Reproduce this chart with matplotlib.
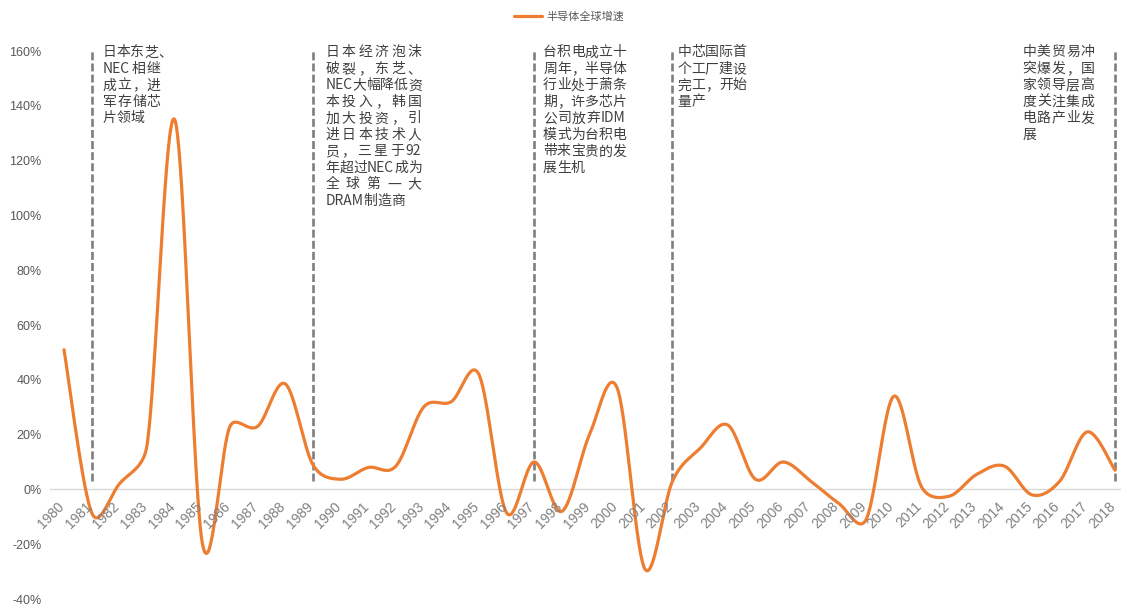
import re
import numpy as np
import matplotlib
matplotlib.use('Agg')
import matplotlib.pyplot as plt
from matplotlib.font_manager import FontProperties

years = np.arange(1980, 2019)
growth = [51, -8.5, 2, 16, 135, -19.5, 23, 23, 38.5, 9,
          3.7, 8, 8.5, 30, 32, 42, -8.5, 10, -8, 20,
          37, -29, 3, 15, 23.5, 3.7, 10, 3, -5, -11,
          34, 1, -2.5, 5.5, 8.5, -2, 3, 21, 7]
series_name = '半导体全球增速'

event_years = [1981, 1989, 1997, 2002, 2018]
event_notes = [
    ['日本东芝、', 'NEC相继', '成立，进', '军存储芯', '片领域'],
    ['日本经济泡沫', '破裂，东芝、', 'NEC大幅降低资', '本投入，韩国', '加大投资，引',
     '进日本技术人', '员，三星于92', '年超过NEC成为', '全球第一大', 'DRAM制造商'],
    ['台积电成立十', '周年，半导体', '行业处于萧条', '期，许多芯片', '公司放弃IDM',
     '模式为台积电', '带来宝贵的发', '展生机'],
    ['中芯国际首', '个工厂建设', '完工，开始', '量产'],
    ['中美贸易冲', '突爆发，国', '家领导层高', '度关注集成', '电路产业发', '展'],
]
# left edge of each text block (in years) and its width in pixels
note_x = [1981.4, 1989.45, 1997.32, 2002.17, 2014.65]
note_w = [58, 96, 82, 67, 72]

ORANGE = '#ED7D31'
GREY = '#7F7F7F'
TXT = '#404040'
CJK = ['Noto Sans CJK SC', 'DejaVu Sans']

plt.rcParams['font.family'] = ['Liberation Sans', 'Noto Sans CJK SC', 'DejaVu Sans']

PX_X = 27.66   # pixels per year
PX_Y = 2.74    # pixels per percent


def smooth_curve(x, y, n=40):
    """Bezier 'smoothed line': tangent 1/6, arms capped at half a segment (in pixels)."""
    p = np.column_stack([np.asarray(x) * PX_X, np.asarray(y) * PX_Y]).astype(float)
    pe = np.vstack([p[0], p, p[-1]])
    t = np.linspace(0, 1, n)[:, None]
    out = []
    for i in range(len(p) - 1):
        a, b, c, d = pe[i], pe[i + 1], pe[i + 2], pe[i + 3]
        d12 = np.hypot(*(c - b))
        d02 = np.hypot(*(c - a))
        d13 = np.hypot(*(d - b))
        f1 = 1 / 6. if d02 / 6. < d12 / 2. else (d12 / (2 * d02) if d02 > 0 else 0)
        f2 = 1 / 6. if d13 / 6. < d12 / 2. else (d12 / (2 * d13) if d13 > 0 else 0)
        c1 = b + f1 * (c - a)
        c2 = c - f2 * (d - b)
        seg = ((1 - t)**3 * b + 3 * (1 - t)**2 * t * c1
               + 3 * (1 - t) * t**2 * c2 + t**3 * c)
        out.append(seg if i == 0 else seg[1:])
    out = np.vstack(out)
    return out[:, 0] / PX_X, out[:, 1] / PX_Y


fig = plt.figure(figsize=(11.27, 6.10), dpi=100)
ax = fig.add_axes([50/1127, 1 - 599/610, 1070/1127, 548/610])
ax.set_xlim(1979.494, 2018.18)
ax.set_ylim(-40, 160)

sx, sy = smooth_curve(years, growth)
ax.plot(sx, sy, color=ORANGE, lw=2.3, solid_capstyle='round', label=series_name, zorder=3)

for yr in event_years:
    ax.plot([yr, yr], [3, 162], color=GREY, lw=1.9, ls=(0, (3, 1.2)), zorder=2)

# axis styling: only the zero line is kept
for s in ['top', 'right', 'left']:
    ax.spines[s].set_visible(False)
ax.spines['bottom'].set_position(('data', 0))
ax.spines['bottom'].set_color('#D9D9D9')
ax.spines['bottom'].set_linewidth(1.0)
ax.set_xticks(years)
ax.set_xticklabels([])
for yr in years:
    ax.annotate(str(yr), xy=(yr, 0), xytext=(3 * 0.72, -10 * 0.72),
                textcoords='offset points', rotation=45, ha='right', va='top',
                color='#808080', fontsize=10)
ax.set_yticks(np.arange(-40, 161, 20))
ax.set_yticklabels(['%d%%' % v for v in range(-40, 161, 20)],
                   color='#595959', fontsize=9)
ax.tick_params(axis='both', length=0)
ax.tick_params(axis='y', pad=6)

# justified note blocks
fig.canvas.draw()
renderer = fig.canvas.get_renderer()
prop = FontProperties(family=CJK, size=10)
line_step = 16.5 / PX_Y
for lines, x0, w in zip(event_notes, note_x, note_w):
    y = 159.5
    for k, line in enumerate(lines):
        tokens = re.findall(r'[A-Za-z0-9]+|.', line)
        widths = [renderer.get_text_width_height_descent(tk, prop, ismath=False)[0]
                  for tk in tokens]
        last = k == len(lines) - 1
        gap = 0.
        if not last and len(tokens) > 1:
            gap = max(0., (w - sum(widths)) / (len(tokens) - 1))
        off = 0.
        for tk, tw in zip(tokens, widths):
            ax.annotate(tk, xy=(x0, y), xytext=(off * 0.72, 0),
                        textcoords='offset points', ha='left', va='center',
                        fontsize=10, family=CJK, color=TXT)
            off += tw + gap
        y -= line_step

leg = fig.legend(loc='center', bbox_to_anchor=(0.505, 0.972), frameon=False,
                 prop=FontProperties(family=CJK, size=8), handlelength=2.6,
                 handletextpad=0.4)
for t in leg.get_texts():
    t.set_color('#595959')

fig.savefig('out.png', dpi=100)
